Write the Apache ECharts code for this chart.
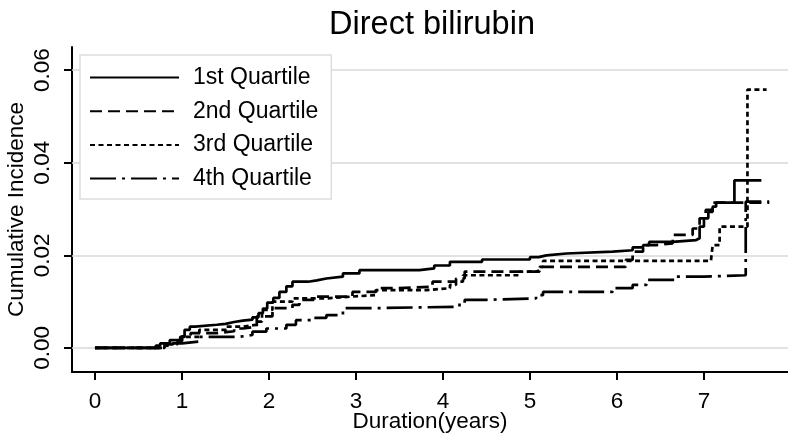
<!DOCTYPE html>
<html>
<head>
<meta charset="utf-8">
<script src="https://cdn.jsdelivr.net/npm/echarts@6/dist/echarts.min.js"></script>
<style>html,body{margin:0;padding:0;background:#fff;}#c{width:788px;height:436px;}</style>
</head>
<body>
<div id="c"></div>
<script>
var titleText = 'Direct bilirubin';
var seriesNames = ['1st Quartile', '2nd Quartile', '3rd Quartile', '4th Quartile'];
var xTicks = [0, 1, 2, 3, 4, 5, 6, 7];
var yTicks = [0, 0.02, 0.04, 0.06];

var q1 = [[0,0],[0.63,0],[0.7,0.0005],[0.75,0.001],[0.86,0.0017],[0.98,0.0024],[1.03,0.0039],[1.09,0.0046],[1.15,0.005],[1.4,0.0052],[1.5,0.0056],[1.6,0.0059],[1.7,0.0061],[1.81,0.0066],[1.88,0.0075],[1.93,0.0085],[1.98,0.0098],[2.05,0.0108],[2.12,0.0121],[2.2,0.0133],[2.27,0.0143],[2.45,0.0146],[2.55,0.015],[2.66,0.0154],[2.85,0.0161],[3.04,0.0168],[3.73,0.0172],[3.9,0.0178],[4.08,0.0186],[4.45,0.0191],[5.0,0.0196],[5.1,0.02],[5.19,0.0204],[5.42,0.0208],[5.95,0.0211],[6.18,0.0217],[6.3,0.0222],[6.37,0.0229],[6.64,0.0233],[6.91,0.0237],[6.95,0.0262],[7.0,0.028],[7.05,0.0294],[7.1,0.0305],[7.14,0.0314],[7.35,0.0362],[7.66,0.0362]];
var q2 = [[0,0],[0.65,0],[0.75,0.0008],[0.9,0.0015],[1.0,0.0025],[1.1,0.0032],[1.4,0.0036],[1.6,0.0042],[1.7,0.0046],[1.86,0.0068],[2.04,0.0086],[2.27,0.0093],[2.35,0.0104],[2.55,0.0111],[2.96,0.0121],[3.23,0.0129],[3.46,0.0132],[3.88,0.0143],[4.15,0.015],[4.25,0.0165],[5.07,0.0168],[5.12,0.0175],[6.03,0.0175],[6.1,0.019],[6.18,0.0208],[6.3,0.0222],[6.45,0.0226],[6.64,0.0244],[6.87,0.0258],[6.95,0.028],[7.02,0.0298],[7.1,0.0314],[7.75,0.0314]];
var q3 = [[0,0],[0.7,0],[0.8,0.0008],[0.95,0.0015],[1.0,0.0024],[1.2,0.0039],[1.51,0.0046],[1.7,0.005],[1.86,0.0057],[1.92,0.0082],[2.04,0.01],[2.27,0.0107],[2.66,0.0111],[2.96,0.0114],[3.23,0.0125],[3.81,0.0129],[4.08,0.0136],[4.15,0.0143],[4.23,0.0157],[4.88,0.0165],[5.11,0.0175],[5.15,0.0188],[7.08,0.0188],[7.1,0.0222],[7.18,0.0262],[7.5,0.0558],[7.72,0.0558]];
var q4 = [[0,0],[0.7,0],[0.8,0.0005],[0.9,0.001],[1.0,0.0014],[1.2,0.0024],[1.66,0.0028],[1.81,0.0035],[1.97,0.0042],[2.2,0.005],[2.31,0.006],[2.5,0.0065],[2.66,0.0071],[2.85,0.0086],[3.23,0.0089],[4.19,0.0096],[4.25,0.0104],[4.5,0.0107],[5.07,0.0114],[5.15,0.0121],[5.95,0.0129],[6.18,0.0136],[6.34,0.0147],[6.68,0.0154],[7.0,0.0157],[7.48,0.0316],[7.75,0.0316]];

var dashes = ['solid', [12, 6], [5, 3.5], [26, 6, 3, 6]];
var datasets = [q1, q2, q3, q4];
var FONT = '"Liberation Sans", Arial, sans-serif';

var chart = echarts.init(document.getElementById('c'), null, {renderer: 'canvas'});
var series = datasets.map(function (d, i) {
  var s = {
    name: seriesNames[i],
    type: 'line',
    step: 'end',
    symbol: 'none',
    showSymbol: false,
    data: d,
    z: 5 - i,
    lineStyle: {color: '#000', width: 2.7, type: dashes[i]},
    itemStyle: {color: '#000'}
  };
  if (i === 0) {
    s.markLine = {
      silent: true,
      symbol: 'none',
      label: {show: false},
      lineStyle: {color: '#d9d9d9', width: 1.5, type: 'solid'},
      z: 1,
      data: yTicks.map(function (v) { return {yAxis: v}; })
    };
  }
  return s;
});

chart.setOption({
  backgroundColor: '#fff',
  animation: false,
  title: {
    text: titleText,
    left: 427,
    textAlign: 'center',
    top: 4,
    textStyle: {fontFamily: FONT, fontSize: 32.5, fontWeight: 'normal', color: '#000'}
  },
  legend: {
    orient: 'vertical',
    left: 80,
    top: 55,
    padding: [11, 13, 9, 9],
    itemWidth: 89,
    itemHeight: 22,
    itemGap: 10.7,
    backgroundColor: '#fff',
    borderColor: '#dddddd',
    borderWidth: 1.5,
    itemStyle: {opacity: 0},
    data: seriesNames,
    textStyle: {fontFamily: FONT, fontSize: 23, lineHeight: 22, color: '#000', padding: [0, 0, 0, 9]}
  },
  grid: {left: 72, right: 0, top: 47, bottom: 64, containLabel: false, outerBoundsMode: 'none'},
  xAxis: {
    type: 'value',
    min: -0.264,
    max: 7.966,
    name: 'Duration(years)',
    nameLocation: 'middle',
    nameGap: 38,
    nameMoveOverlap: false,
    nameTextStyle: {fontFamily: FONT, fontSize: 22.5, color: '#000'},
    axisLine: {onZero: false, lineStyle: {color: '#000', width: 2}},
    axisTick: {show: true, length: 8, lineStyle: {color: '#000', width: 2}, customValues: xTicks},
    axisLabel: {fontFamily: FONT, fontSize: 22.5, color: '#000', margin: 18, customValues: xTicks},
    splitLine: {show: false}
  },
  yAxis: {
    type: 'value',
    min: -0.0052,
    max: 0.065,
    name: 'Cumulative Incidence',
    nameLocation: 'middle',
    nameRotate: 90,
    nameGap: 44,
    nameMoveOverlap: false,
    nameTextStyle: {fontFamily: FONT, fontSize: 22.5, color: '#000'},
    axisLine: {show: true, onZero: false, lineStyle: {color: '#000', width: 2}},
    axisTick: {show: true, length: 8, lineStyle: {color: '#000', width: 2}, customValues: yTicks},
    axisLabel: {
      fontFamily: FONT, fontSize: 22.5, color: '#000', margin: 18, rotate: 90,
      customValues: yTicks,
      formatter: function (v) { return v.toFixed(2); }
    },
    splitLine: {show: false}
  },
  series: series
});
</script>
</body>
</html>
